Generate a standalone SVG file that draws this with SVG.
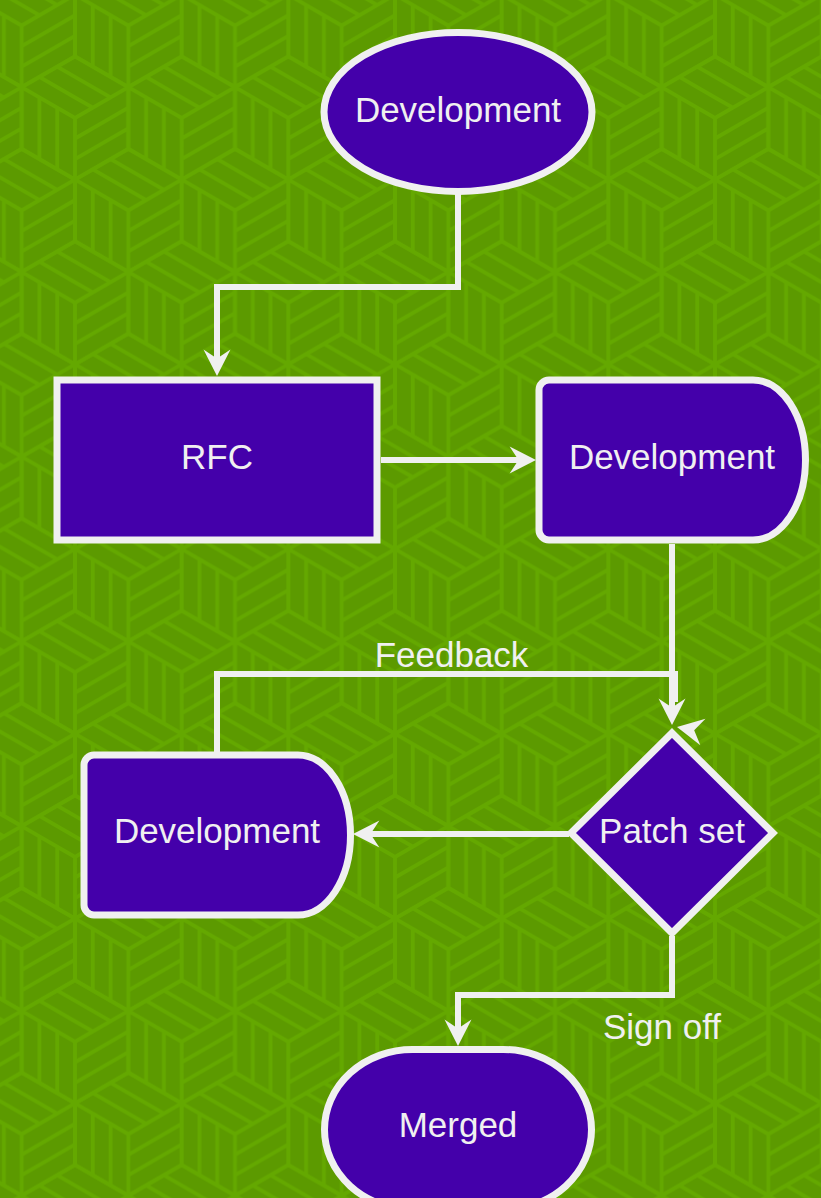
<svg xmlns="http://www.w3.org/2000/svg" width="821" height="1198" viewBox="0 0 821 1198">
<style>
.node{fill:#4400AA;stroke:#F0F0F0;stroke-width:7;}
.lbl{font-family:"Liberation Sans",Arial,sans-serif;font-size:35px;fill:#F0F0F0;text-anchor:middle;}
.edge{fill:none;stroke:#F0F0F0;stroke-width:6;}
.ah{fill:#F0F0F0;stroke:none;}
.cube{fill:none;stroke:#64A800;stroke-width:3.8;}
</style>
<defs>
  <path id="cube" class="cube" d="M0,-61.58 L53.33,-30.79 L53.33,30.79 L0,61.58 L-53.33,30.79 L-53.33,-30.79 Z M0,0 L-53.33,-30.79 M0,0 L53.33,-30.79 M0,0 L0,61.58 M-17.78,-10.26 V51.32 M-35.56,-20.53 V41.05 M0,20.53 L53.33,-10.26 M0,41.05 L53.33,10.26 M-35.56,-41.05 L17.78,-10.26 M-17.78,-51.32 L35.56,-20.53"/>
  <pattern id="bg" patternUnits="userSpaceOnUse" x="75" y="118" width="106.667" height="184.75">
    <rect x="0" y="0" width="106.667" height="184.75" fill="#5C9A00"/>
    <use href="#cube" x="0" y="0"/>
    <use href="#cube" x="106.667" y="0"/>
    <use href="#cube" x="53.333" y="92.375"/>
    <use href="#cube" x="-53.333" y="92.375"/>
    <use href="#cube" x="160" y="92.375"/>
    <use href="#cube" x="0" y="184.75"/>
    <use href="#cube" x="106.667" y="184.75"/>
  </pattern>
  <path id="ahead" class="ah" d="M0,0 L-26.4,-13.5 L-17.5,0 L-26.4,13.5 Z"/>
  <marker id="arr" markerUnits="userSpaceOnUse" orient="auto" overflow="visible" viewBox="-30 -20 50 40" markerWidth="50" markerHeight="40" refX="0" refY="0">
    <path class="ah" d="M10,0 L-16.4,-13.5 L-7.5,0 L-16.4,13.5 Z"/>
  </marker>
</defs>

<rect x="0" y="0" width="821" height="1198" fill="url(#bg)"/>

<g id="connectors">
  <path class="edge" d="M458,192 V287 H217 V366" marker-end="url(#arr)"/>
  <path class="edge" d="M381,460 H526" marker-end="url(#arr)"/>
  <path class="edge" d="M672,544 V715" marker-end="url(#arr)"/>
  <path class="edge" d="M217,752 V674 H675 V702"/>
  <use href="#ahead" transform="translate(677,727) rotate(191)"/>
  <path class="edge" d="M569,834 H363" marker-end="url(#arr)"/>
  <path class="edge" d="M672,936 V995 H458 V1036" marker-end="url(#arr)"/>
  <text class="lbl" x="451.5" y="667">Feedback</text>
  <text class="lbl" x="662" y="1039">Sign off</text>
</g>

<g id="node-start">
  <ellipse class="node" cx="458" cy="112" rx="134" ry="79.5"/>
  <text class="lbl" x="458" y="122">Development</text>
</g>

<g id="node-rfc">
  <rect class="node" x="57" y="380" width="320" height="160"/>
  <text class="lbl" x="217" y="469">RFC</text>
</g>

<g id="node-dev-right">
  <path class="node" d="M549,380 H753 A52.5 80 0 0 1 753,540 H549 A10 10 0 0 1 539,530 V390 A10 10 0 0 1 549,380 Z"/>
  <text class="lbl" x="672" y="469">Development</text>
</g>

<g id="node-patchset">
  <polygon class="node" points="672,733 773,833 672,933 571,833"/>
  <text class="lbl" x="672" y="843">Patch set</text>
</g>

<g id="node-dev-left">
  <path class="node" d="M94,755 H298 A52.5 80 0 0 1 298,915 H94 A10 10 0 0 1 84,905 V765 A10 10 0 0 1 94,755 Z"/>
  <text class="lbl" x="217" y="843">Development</text>
</g>

<g id="node-merged">
  <rect class="node" x="324.5" y="1049.5" width="267" height="160" rx="88" ry="80"/>
  <text class="lbl" x="458" y="1137">Merged</text>
</g>
</svg>
